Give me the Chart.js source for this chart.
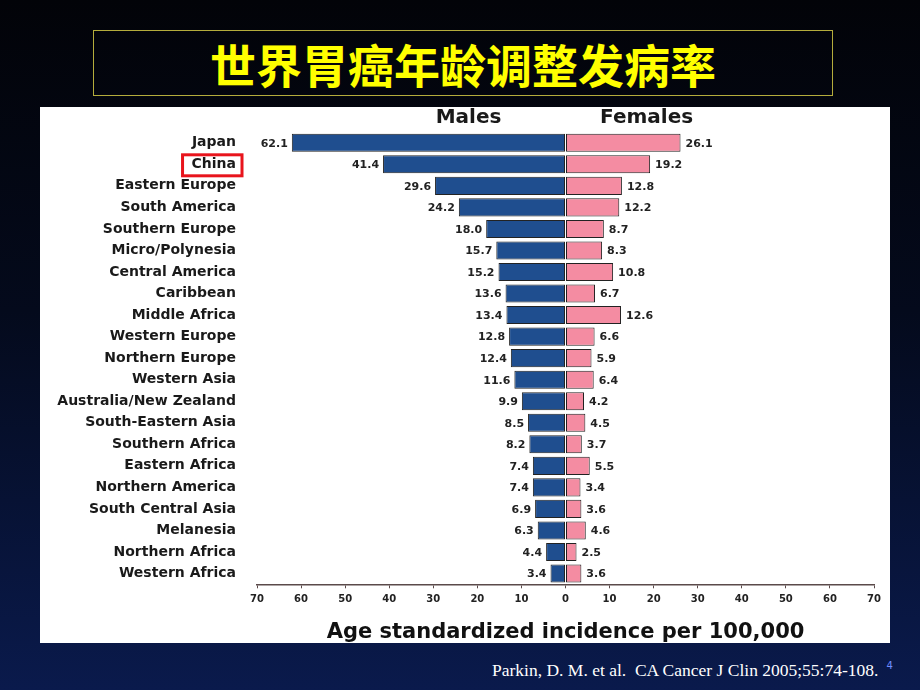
<!DOCTYPE html>
<html>
<head>
<meta charset="utf-8">
<script src="https://cdn.jsdelivr.net/npm/chart.js@4.4.0/dist/chart.umd.min.js"></script>
<style>
  body { margin: 0; width: 920px; height: 690px; overflow: hidden;
         background: linear-gradient(to bottom, #020308 0%, #040a1c 45%, #0a1a4c 100%); position: relative; }
  #title { position: absolute; left: 93px; top: 30px; width: 738px; height: 64px;
           border: 1.5px solid #b4ac3c; color: #ffff00; text-align: center;
           font: bold 46px "Noto Sans CJK SC", sans-serif; line-height: 64px; }
  #panel { position: absolute; left: 40px; top: 107px; width: 850px; height: 536px; background: #fff; }
  #chart { position: absolute; left: 0; top: 0; }
  #cite { position: absolute; left: 492px; top: 660px; color: #fff;
          font: 17.5px "Liberation Serif", serif; white-space: nowrap; }
  #cite sup { color: #6f8cff; font: 10px "DejaVu Sans", sans-serif; margin-left: 8px; }
</style>
</head>
<body>
<div id="title">世界胃癌年龄调整发病率</div>
<div id="panel"><canvas id="chart" width="850" height="538"></canvas></div>
<div id="cite">Parkin, D. M. et al.&nbsp; CA Cancer J Clin 2005;55:74-108.<sup>4</sup></div>
<script>
// regiones
const regiones = ['Japan', 'China', 'Eastern Europe', 'South America', 'Southern Europe',
  'Micro/Polynesia', 'Central America', 'Caribbean', 'Middle Africa', 'Western Europe',
  'Northern Europe', 'Western Asia', 'Australia/New Zealand', 'South-Eastern Asia',
  'Southern Africa', 'Eastern Africa', 'Northern America', 'South Central Asia',
  'Melanesia', 'Northern Africa', 'Western Africa'];

// tasas por 100.000
const hombres = [62.1, 41.4, 29.6, 24.2, 18.0, 15.7, 15.2, 13.6, 13.4, 12.8, 12.4,
  11.6, 9.9, 8.5, 8.2, 7.4, 7.4, 6.9, 6.3, 4.4, 3.4];
const mujeres = [26.1, 19.2, 12.8, 12.2, 8.7, 8.3, 10.8, 6.7, 12.6, 6.6, 5.9,
  6.4, 4.2, 4.5, 3.7, 5.5, 3.4, 3.6, 4.6, 2.5, 3.6];

const ticksX = [-70, -60, -50, -40, -30, -20, -10, 0, 10, 20, 30, 40, 50, 60, 70];
const resaltar = 'China';

const fuente = '"DejaVu Sans", sans-serif';

// etiquetas con el valor al final de cada barra
const etiquetasValor = {
  id: 'etiquetasValor',
  afterDatasetsDraw(chart) {
    const ctx = chart.ctx;
    ctx.save();
    ctx.font = 'bold 11px ' + fuente;
    ctx.fillStyle = '#222';
    ctx.textBaseline = 'middle';
    chart.data.datasets.forEach((ds, i) => {
      const meta = chart.getDatasetMeta(i);
      const valores = i === 0 ? hombres : mujeres;
      meta.data.forEach((bar, j) => {
        const txt = valores[j].toFixed(1);
        if (i === 0) {
          ctx.textAlign = 'right';
          ctx.fillText(txt, bar.x - 4, bar.y + 1);
        } else {
          ctx.textAlign = 'left';
          ctx.fillText(txt, bar.x + 5, bar.y + 1);
        }
      });
    });
    ctx.restore();
  }
};

// "Males" / "Females" arriba
const titulosSerie = {
  id: 'titulosSerie',
  afterDraw(chart) {
    const ctx = chart.ctx;
    const x = chart.scales.x;
    ctx.save();
    ctx.font = 'bold 20px ' + fuente;
    ctx.fillStyle = '#1a1a1a';
    ctx.textAlign = 'center';
    ctx.textBaseline = 'middle';
    ctx.fillText(chart.data.datasets[0].label, x.getPixelForValue(-22), 11);
    ctx.fillText(chart.data.datasets[1].label, x.getPixelForValue(18.4), 11);
    ctx.restore();
  }
};

// recuadro rojo alrededor de China
const recuadro = {
  id: 'recuadro',
  afterDraw(chart) {
    const y = chart.scales.y;
    const idx = regiones.indexOf(resaltar);
    if (idx < 0) return;
    const ctx = chart.ctx;
    ctx.save();
    ctx.font = 'bold 14px ' + fuente;
    const w = ctx.measureText(resaltar).width;
    const right = y.right - 21;
    const cy = y.getPixelForTick(idx) + 1;
    ctx.strokeStyle = '#e8141c';
    ctx.lineWidth = 3;
    ctx.strokeRect(right - w - 9, cy - 10.5, w + 15, 21);
    ctx.restore();
  }
};

new Chart(document.getElementById('chart'), {
  type: 'bar',
  data: {
    labels: regiones,
    datasets: [{
      label: 'Males',
      data: hombres.map(v => -v),
      backgroundColor: '#1f4e8f',
      borderColor: '#222',
      borderWidth: 1,
      borderSkipped: false,
      barPercentage: 0.84,
      categoryPercentage: 1
    }, {
      label: 'Females',
      data: mujeres,
      backgroundColor: '#f48ca2',
      borderColor: '#222',
      borderWidth: 1,
      borderSkipped: false,
      barPercentage: 0.84,
      categoryPercentage: 1
    }]
  },
  options: {
    indexAxis: 'y',
    responsive: false,
    animation: false,
    layout: { padding: { top: 25, right: 16, bottom: 0, left: 0 } },
    plugins: { legend: { display: false }, tooltip: { enabled: false } },
    scales: {
      y: {
        stacked: true,
        afterFit: s => { s.width = 217; s.paddingTop = 0; s.paddingBottom = 0; },
        grid: { display: false, drawTicks: false },
        border: { display: false },
        ticks: { padding: 21, color: '#1a1a1a', font: { family: fuente, weight: 'bold', size: 14 } }
      },
      x: {
        stacked: true,
        min: -70,
        max: 70,
        afterBuildTicks: s => { s.ticks = ticksX.map(v => ({ value: v })); },
        grid: { drawOnChartArea: false, drawTicks: true, tickLength: 4, color: '#5a4a4a' },
        border: { color: '#5a4a4a', width: 1.5 },
        ticks: {
          padding: 5, color: '#222',
          font: { family: fuente, weight: 'bold', size: 10 },
          callback: v => Math.abs(v)
        },
        title: {
          display: true,
          text: 'Age standardized incidence per 100,000',
          color: '#111',
          font: { family: fuente, weight: 'bold', size: 21 },
          padding: { top: 9.5, bottom: 0 }
        }
      }
    }
  },
  plugins: [etiquetasValor, titulosSerie, recuadro]
});
</script>
</body>
</html>
